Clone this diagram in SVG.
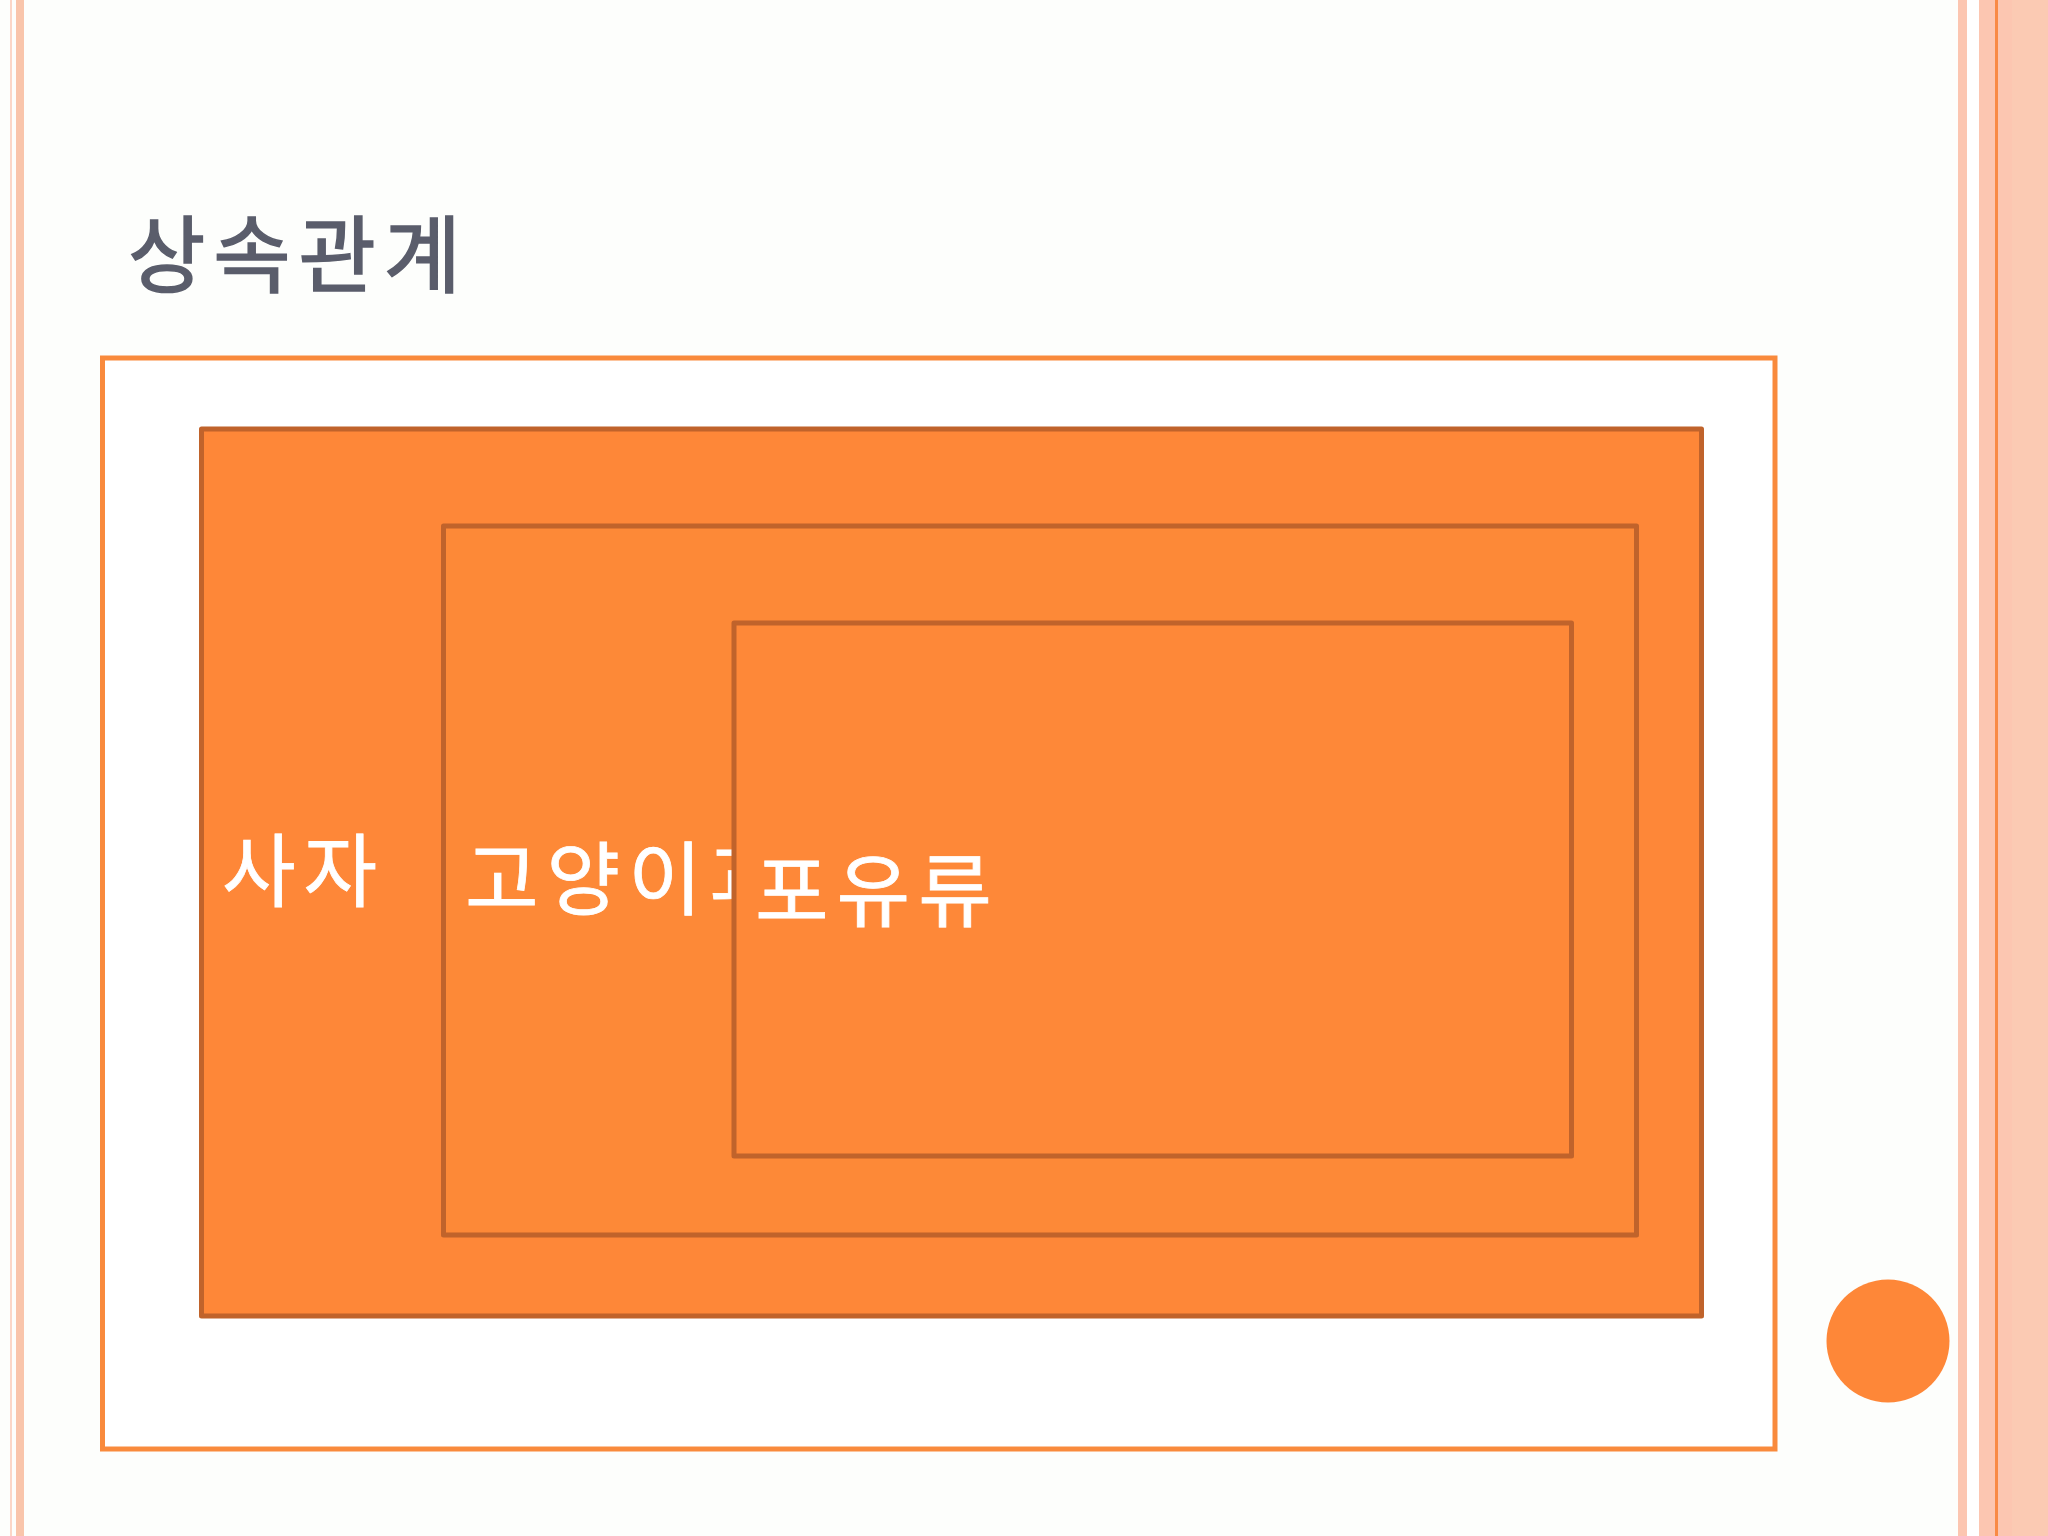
<svg xmlns="http://www.w3.org/2000/svg" width="2048" height="1536" viewBox="0 0 2048 1536">
<style>
.lbl{font-family:"Noto Sans CJK KR","Noto Sans",sans-serif;font-size:80px;fill:#ffffff;letter-spacing:8px;stroke:#ffffff;stroke-width:0.8px}
.title{font-family:"Noto Sans CJK KR","Noto Sans",sans-serif;font-size:84px;fill:#5a5d6b;letter-spacing:8px;stroke:#5a5d6b;stroke-width:1.6px}
.box{stroke:#c0632b;stroke-width:5;stroke-linejoin:round}
</style>
<rect x="0" y="0" width="2048" height="1536" fill="#fdfefc"/>
<g id="stripes-left">
<rect x="10" y="0" width="2" height="1536" fill="#fbd6c7"/>
<rect x="16" y="0" width="8" height="1536" fill="#f9c5ab"/>
</g>
<g id="stripes-right">
<rect x="1958" y="0" width="9" height="1536" fill="#fcc6b1"/>
<rect x="1967" y="0" width="12" height="1536" fill="#ffffff"/>
<rect x="1979" y="0" width="69" height="1536" fill="#fcc6b1"/>
<rect x="2012" y="0" width="36" height="1536" fill="#fbcab3"/>
<rect x="1995" y="0" width="3" height="1536" fill="#f98a45"/>
</g>
<text id="title" class="title" x="128" y="286">상속관계</text>
<g id="outer">
<rect x="102.5" y="358" width="1672.5" height="1091" fill="#ffffff" stroke="#f98a3c" stroke-width="5"/>
</g>
<g id="node-lion">
<rect class="box" x="201.5" y="429" width="1500" height="887" fill="#fe8738"/>
<text class="lbl" x="222" y="900">사자</text>
</g>
<g id="node-cat">
<rect class="box" x="443.5" y="526" width="1193" height="709" fill="#fd8937"/>
<text class="lbl" x="465" y="908">고양이과</text>
</g>
<g id="node-mammal">
<rect class="box" x="734" y="623" width="837.5" height="533" fill="#fe8838"/>
<text class="lbl" x="755" y="920">포유류</text>
</g>
<circle id="dot" cx="1888" cy="1341" r="61.5" fill="#fe8738"/>
<g id="connectors"/>
</svg>
